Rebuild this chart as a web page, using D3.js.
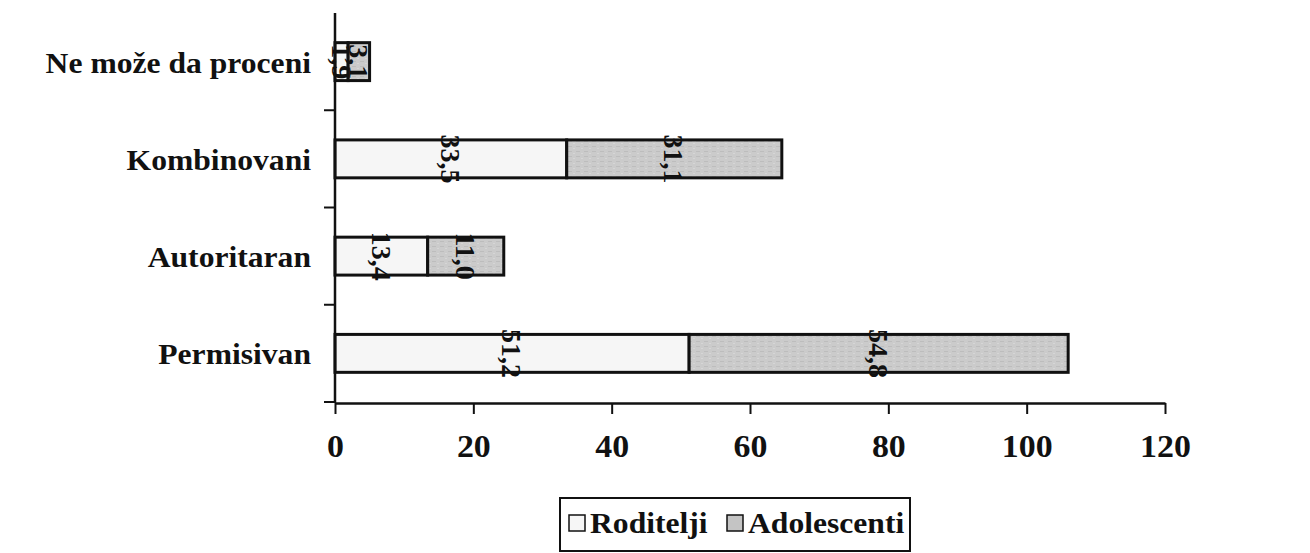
<!DOCTYPE html>
<html><head><meta charset="utf-8">
<script src="https://cdn.jsdelivr.net/npm/d3@7"></script>
<style>
body{margin:0;background:#fff}
svg{display:block}
text{font-family:"Liberation Serif","Times New Roman",serif;font-weight:bold;fill:#111}
</style>
</head><body><svg width="1310" height="553"></svg>
<script>
// ---- data ----
const categories = ["Ne može da proceni", "Kombinovani", "Autoritaran", "Permisivan"];
const seriesNames = ["Roditelji", "Adolescenti"];
const roditelji = [1.9, 33.5, 13.4, 51.2];
const adolescenti = [3.1, 31.1, 11.0, 54.8];
const xTicks = [0, 20, 40, 60, 80, 100, 120];

const rows = categories.map((c, i) => ({cat: c, Roditelji: roditelji[i], Adolescenti: adolescenti[i]}));
const stacked = d3.stack().keys(seriesNames)(rows);
const fmt = v => d3.format(".1f")(v).replace(".", ",");

const svg = d3.select("svg");
const defs = svg.append("defs");
const pat = defs.append("pattern").attr("id", "hatch").attr("patternUnits", "userSpaceOnUse")
  .attr("width", 8).attr("height", 5);
pat.append("rect").attr("width", 8).attr("height", 5).attr("fill", "#cbcbcb");
pat.append("rect").attr("x", 0).attr("y", 1).attr("width", 4).attr("height", 1).attr("fill", "#bdbdbd");
pat.append("rect").attr("x", 5).attr("y", 3).attr("width", 2).attr("height", 1).attr("fill", "#d6d6d6");

const fills = {Roditelji: "#f6f6f6", Adolescenti: "url(#hatch)"};
const swatchFills = {Roditelji: "#f6f6f6", Adolescenti: "#c4c4c4"};

const x = d3.scaleLinear().domain([0, 120]).range([335, 1165]);
const y = d3.scaleBand().domain(categories).range([13, 402]).padding(0);
const barH = y.bandwidth() * 0.39;
const barY = c => y(c) + (y.bandwidth() - barH) / 2;

// bars
const layers = svg.append("g").selectAll("g").data(stacked).join("g");
layers.selectAll("rect").data(d => d.map(p => ({key: d.key, p}))).join("rect")
  .attr("x", d => x(d.p[0]))
  .attr("y", d => barY(d.p.data.cat))
  .attr("width", d => x(d.p[1]) - x(d.p[0]))
  .attr("height", barH)
  .attr("fill", d => fills[d.key])
  .attr("stroke", "#111").attr("stroke-width", 3);

// value labels (rotated)
layers.selectAll("text").data(d => d.map(p => ({key: d.key, p}))).join("text")
  .attr("transform", d => `translate(${x((d.p[0] + d.p[1]) / 2)},${barY(d.p.data.cat) + barH / 2}) rotate(90)`)
  .attr("text-anchor", "middle").attr("dy", "0.35em")
  .style("font-size", "28px")
  .text(d => fmt(d.p[1] - d.p[0]));

// x axis
const xAxis = svg.append("g").attr("transform", `translate(0,${y.range()[1] + 1})`)
  .call(d3.axisBottom(x).tickValues(xTicks).tickSize(11).tickSizeOuter(0).tickPadding(20).tickFormat(d3.format("d")));
xAxis.select(".domain").attr("stroke", "#111").attr("stroke-width", 2.5);
xAxis.selectAll(".tick line").attr("stroke", "#111").attr("stroke-width", 2);
xAxis.selectAll(".tick text").style("font-size", "32px").attr("fill", "#111")
  .attr("transform", "scale(1.06,1)");

// y axis: vertical line + boundary ticks
const yAxis = svg.append("g");
yAxis.append("line").attr("x1", x(0)).attr("x2", x(0)).attr("y1", y.range()[0]).attr("y2", y.range()[1] + 1)
  .attr("stroke", "#111").attr("stroke-width", 2.5);
const bounds = categories.map(c => y(c) + y.bandwidth());
yAxis.selectAll("line.tk").data(bounds).join("line").attr("class", "tk")
  .attr("x1", x(0) - 11).attr("x2", x(0)).attr("y1", d => d).attr("y2", d => d)
  .attr("stroke", "#111").attr("stroke-width", 2);
yAxis.selectAll("text").data(categories).join("text")
  .attr("transform", d => `translate(311,${y(d) + y.bandwidth() / 2 + 11}) scale(1.09,1)`)
  .attr("text-anchor", "end").style("font-size", "29px")
  .text(d => d);

// legend
const lg = svg.append("g");
lg.append("rect").attr("x", 560).attr("y", 498).attr("width", 350).attr("height", 53)
  .attr("fill", "#fff").attr("stroke", "#111").attr("stroke-width", 2);
const legendX = {Roditelji: 569, Adolescenti: 727};
seriesNames.forEach(k => {
  lg.append("rect").attr("x", legendX[k]).attr("y", 515).attr("width", 16).attr("height", 16)
    .attr("fill", swatchFills[k]).attr("stroke", "#111").attr("stroke-width", 1.5);
  lg.append("text").attr("transform", `translate(${legendX[k] + 21},533) scale(1.09,1)`)
    .style("font-size", "29px").text(k);
});
</script>
</body></html>
